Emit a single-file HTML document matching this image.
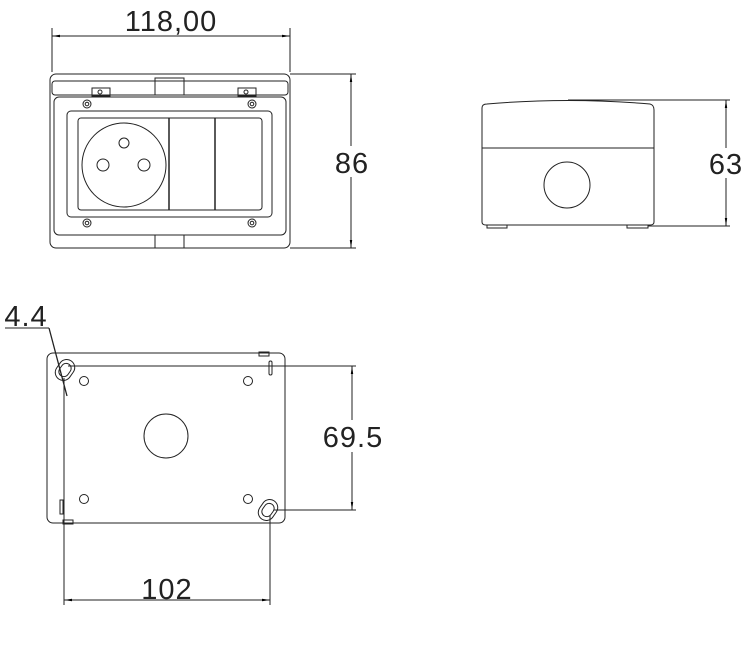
<!DOCTYPE html>
<html><head><style>
html,body{margin:0;padding:0;background:#fff;}
svg{display:block;}
text{font-family:"Liberation Sans",sans-serif;fill:#222;}
</style></head><body>
<svg width="752" height="645" viewBox="0 0 752 645" xmlns="http://www.w3.org/2000/svg">
<defs>
<marker id="a" viewBox="0 0 10 10" refX="10" refY="5" markerWidth="8" markerHeight="8" orient="auto-start-reverse"><path d="M0,3.5 L10,5 L0,6.5z" fill="#000"/></marker>
</defs>
<g fill="none" stroke="#222" stroke-width="1">
<!-- top view -->
<rect x="50" y="74" width="240" height="174" rx="6"/>
<rect x="52" y="81" width="236" height="14" rx="3"/>
<rect x="155" y="78" width="29" height="17"/>
<rect x="92" y="88" width="18" height="8"/><rect x="238" y="88" width="18" height="8"/>
<circle cx="100" cy="92" r="2"/><circle cx="246" cy="92" r="2"/>
<rect x="54" y="97" width="232" height="138" rx="5"/>
<rect x="67" y="111" width="205" height="106" rx="4"/>
<rect x="78" y="118" width="184" height="92" rx="3"/>
<line x1="169" y1="118" x2="169" y2="210" stroke-width="1.5"/>
<line x1="215" y1="118" x2="215" y2="210" stroke-width="1.5"/>
<circle cx="124" cy="165" r="42"/>
<circle cx="124" cy="143" r="5"/><circle cx="103" cy="165" r="6"/><circle cx="144" cy="165" r="6"/>
<circle cx="87" cy="104" r="4"/><circle cx="87" cy="104" r="1.8"/>
<circle cx="252" cy="104" r="4"/><circle cx="252" cy="104" r="1.8"/>
<circle cx="87" cy="223" r="4"/><circle cx="87" cy="223" r="1.8"/>
<circle cx="252" cy="223" r="4"/><circle cx="252" cy="223" r="1.8"/>
<rect x="155" y="235" width="29" height="13"/>
<!-- dims top -->
<line x1="52" y1="28" x2="52" y2="72"/><line x1="290" y1="28" x2="290" y2="72"/>
<line x1="52" y1="36" x2="290" y2="36" marker-start="url(#a)" marker-end="url(#a)"/>
<line x1="290" y1="74" x2="356" y2="74"/><line x1="290" y1="248" x2="356" y2="248"/>
<line x1="351" y1="74" x2="351" y2="146" marker-start="url(#a)"/>
<line x1="351" y1="177" x2="351" y2="248" marker-end="url(#a)"/>
<!-- side view -->
<path d="M482,108 Q482,104 487,104 Q568,97 650,104 Q654,105 654,110 L654,222 Q654,225 650,225 L486,225 Q482,225 482,222 Z"/>
<line x1="482" y1="148" x2="654" y2="148"/>
<circle cx="567" cy="185" r="23"/>
<rect x="487" y="225" width="20" height="3"/><rect x="627" y="225" width="21" height="3"/>
<line x1="568" y1="100" x2="730" y2="100"/><line x1="648" y1="226" x2="730" y2="226"/>
<line x1="726" y1="100" x2="726" y2="148" marker-start="url(#a)"/>
<line x1="726" y1="178" x2="726" y2="226" marker-end="url(#a)"/>
<!-- bottom view -->
<rect x="47" y="353" width="238" height="170" rx="6"/>
<rect x="259" y="352" width="10" height="4"/><rect x="269" y="361" width="3" height="14" rx="1.5"/>
<rect x="60" y="500" width="3" height="14"/><rect x="63" y="520" width="10" height="4"/>
<g transform="rotate(35 65 370)"><rect x="57" y="359" width="16" height="22" rx="8"/><rect x="60" y="363" width="10" height="14" rx="5"/></g>
<g transform="rotate(35 268 510)"><rect x="260" y="499" width="16" height="22" rx="8"/><rect x="263" y="503" width="10" height="14" rx="5"/></g>
<circle cx="84" cy="381" r="4.5"/><circle cx="248" cy="381" r="4.5"/>
<circle cx="84" cy="499" r="4.5"/><circle cx="248" cy="499" r="4.5"/>
<circle cx="166" cy="436" r="22"/>
<line x1="68" y1="366" x2="356" y2="366"/><line x1="274" y1="510" x2="356" y2="510"/>
<line x1="352" y1="366" x2="352" y2="420" marker-start="url(#a)"/>
<line x1="352" y1="452" x2="352" y2="510" marker-end="url(#a)"/>
<line x1="64" y1="378" x2="64" y2="605"/><line x1="270" y1="515" x2="270" y2="605"/>
<line x1="64" y1="600" x2="270" y2="600" marker-start="url(#a)" marker-end="url(#a)"/>
<line x1="5" y1="328" x2="49" y2="328"/>
<line x1="49" y1="328" x2="67" y2="396" stroke-width="1.3"/>
</g>
<g font-size="29" letter-spacing="1">
<text x="171" y="31" text-anchor="middle">118,00</text>
<text x="352" y="173" text-anchor="middle">86</text>
<text x="726" y="174" text-anchor="middle">63</text>
<text x="353" y="447" text-anchor="middle">69.5</text>
<text x="167" y="599" text-anchor="middle">102</text>
<text x="26" y="326" text-anchor="middle">4.4</text>
</g>
</svg>
</body></html>
